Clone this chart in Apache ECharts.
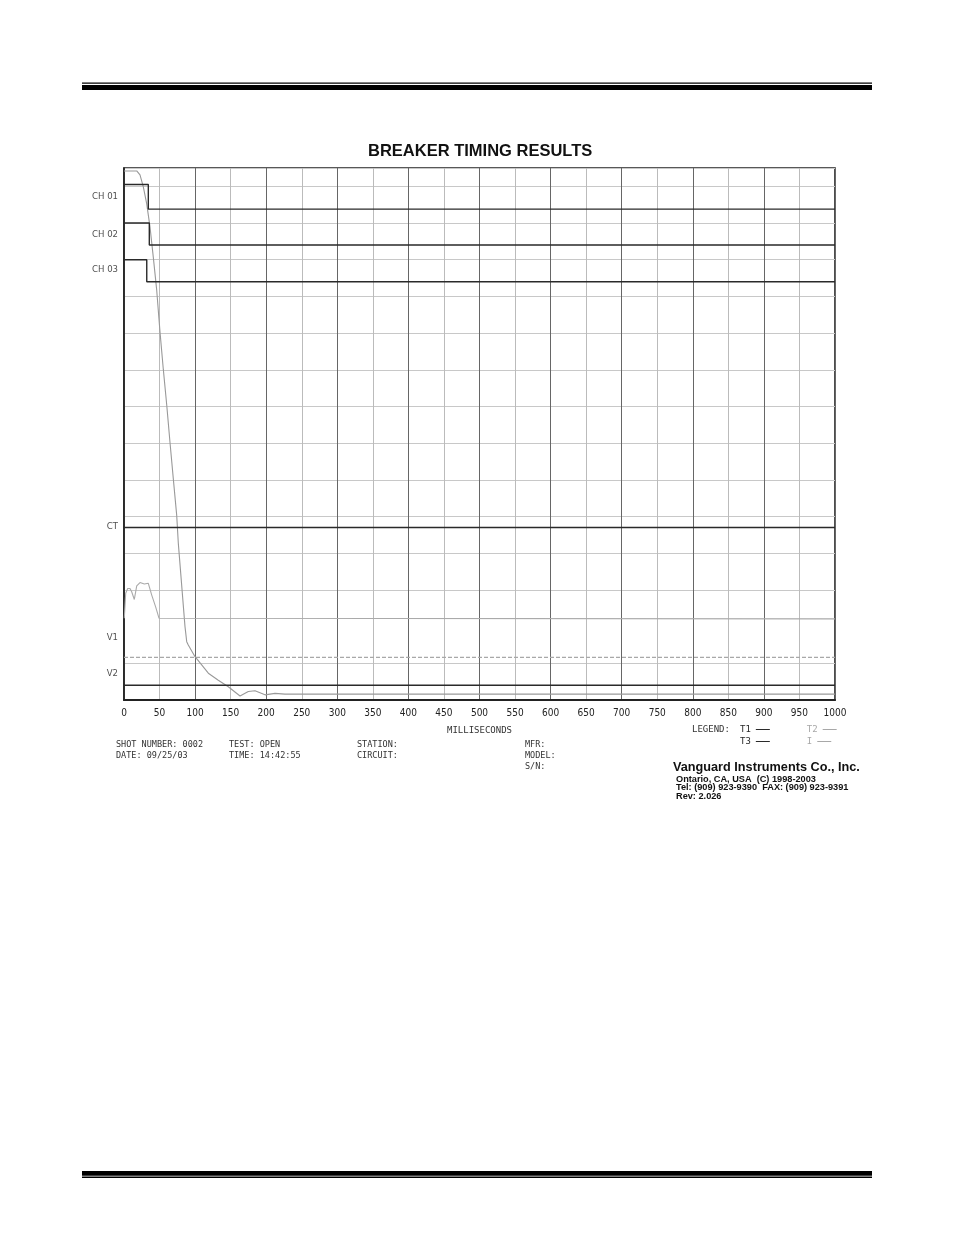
<!DOCTYPE html>
<html>
<head>
<meta charset="utf-8">
<script src="https://cdn.jsdelivr.net/npm/echarts@6/dist/echarts.min.js"></script>
<style>
html,body{margin:0;padding:0;background:#fff;}
#chart{width:954px;height:1235px;}
</style>
</head>
<body>
<div id="chart"></div>
<script>
// ---- data (x in milliseconds, y in chart grid divisions) ----
const xTicks = [0,50,100,150,200,250,300,350,400,450,500,550,600,650,700,750,800,850,900,950,1000];

const chNames = ['CH 01','CH 02','CH 03'];
const chOpenTimes = [34.2, 35.6, 32.0];
const chClosedLevel = [14.05, 13.0, 12.0];
const chOpenLevel = [13.38, 12.4, 11.4];

const ctLevel = 4.7;
const v2Level = 0.4;
const v1Level = 1.16;

const rowLabels = ['CH 01','CH 02','CH 03','CT','V1','V2'];
const rowLabelLevels = [13.71, 12.70, 11.72, 4.72, 1.70, 0.73];

const travelMs = [0, 17.9, 22.5, 27.1, 31.9, 36.6, 41.2, 46.0, 50.6, 55.3, 60.1, 64.7, 69.3, 74.1, 76.4, 85.8, 88.2, 90.4, 99.9, 118.6, 132.6, 146.7, 163.2, 174.8, 184.2, 198.3, 212.4, 226.4, 1000];
const travelLevel = [14.42, 14.42, 14.31, 13.99, 13.53, 12.89, 12.07, 11.17, 10.04, 9.01, 8.04, 7.02, 6.04, 5.04, 4.27, 2.0, 1.59, 1.5, 1.18, 0.73, 0.54, 0.36, 0.11, 0.23, 0.25, 0.14, 0.18, 0.16, 0.16];

const currentMs = [0.4, 2.4, 5.2, 8.4, 10.8, 14.5, 17.9, 22.5, 28.6, 34.2, 39.0, 44.5, 49.2, 1000];
const currentLevel = [2.23, 2.91, 3.04, 3.04, 2.95, 2.74, 3.11, 3.20, 3.16, 3.18, 2.86, 2.54, 2.23, 2.21];

const legendRow1 = ['T1','T2'];
const legendRow2 = ['T3','I'];

const infoLeft = [['SHOT NUMBER: 0002','DATE: 09/25/03'],['TEST: OPEN','TIME: 14:42:55'],['STATION:','CIRCUIT:'],['MFR:','MODEL:','S/N:']];
const companyLines = ['Vanguard Instruments Co., Inc.','Ontario, CA, USA  (C) 1998-2003','Tel: (909) 923-9390  FAX: (909) 923-9391','Rev: 2.026'];

// ---- build ----
const DARK = '#2a2a2a';
const LIGHT = '#a8a8a8';
const NARROW = "'Liberation Sans Narrow','DejaVu Sans Condensed','Liberation Sans',sans-serif";
const MONO = "'DejaVu Sans Mono','Liberation Mono',monospace";

function zip(a, b){ return a.map((v,i)=>[v,b[i]]); }

const series = [];
chNames.forEach((n,i)=>{
  series.push({
    name: n, type:'line', symbol:'none', silent:true, z:5,
    lineStyle:{color:DARK, width:1.4},
    data:[[0,chClosedLevel[i]],[chOpenTimes[i],chClosedLevel[i]],[chOpenTimes[i],chOpenLevel[i]],[1000,chOpenLevel[i]]]
  });
});
series.push({name:'CT', type:'line', symbol:'none', silent:true, z:5, lineStyle:{color:DARK,width:1.4}, data:[[0,ctLevel],[1000,ctLevel]]});
series.push({name:'V2', type:'line', symbol:'none', silent:true, z:5, lineStyle:{color:DARK,width:1.4}, data:[[0,v2Level],[1000,v2Level]]});
series.push({name:'V1', type:'line', symbol:'none', silent:true, z:4, lineStyle:{color:LIGHT,width:1.2,type:[4,2]}, data:[[0,v1Level],[1000,v1Level]]});
series.push({name:'T1', type:'line', symbol:'none', color:DARK, lineStyle:{color:DARK,width:1.2}, data:[]});
series.push({name:'T3', type:'line', symbol:'none', color:DARK, lineStyle:{color:DARK,width:1.2}, data:[]});
series.push({name:'T2', type:'line', symbol:'none', silent:true, z:4, color:LIGHT, lineStyle:{color:'#999',width:1.1}, data:zip(travelMs, travelLevel)});
series.push({name:'I', type:'line', symbol:'none', silent:true, z:4, color:LIGHT, lineStyle:{color:'#aaa',width:1.1}, data:zip(currentMs, currentLevel)});
series.push({
  name:'rows', type:'scatter', symbolSize:0, silent:true, clip:false,
  data: rowLabelLevels.map((v,i)=>({value:[0,v], name:rowLabels[i]})),
  label:{show:true, position:'left', distance:6, formatter:p=>p.name, color:'#222', fontSize:9.5, fontFamily:NARROW}
});

const ySplitColors = [];
for (let k=0;k<=15;k++) ySplitColors.push(k===2 ? 'rgba(0,0,0,0)' : '#c8c8c8');

const graphics = [
  {type:'rect', shape:{x:82,y:82.5,width:790,height:1.3}, style:{fill:'#000'}},
  {type:'rect', shape:{x:82,y:85,width:790,height:5}, style:{fill:'#000'}},
  {type:'rect', shape:{x:82,y:1171,width:790,height:4.8}, style:{fill:'#000'}},
  {type:'rect', shape:{x:82,y:1176.6,width:790,height:1.3}, style:{fill:'#000'}},
  {type:'text', x:692, y:730, style:{text:'LEGEND:', font:"9px "+MONO, fill:'#333', verticalAlign:'middle'}}
];
const infoX = [116, 229, 357, 525];
infoLeft.forEach((col,ci)=>{
  col.forEach((t,ri)=>{
    graphics.push({type:'text', x:infoX[ci], y:745+ri*11, style:{text:t, font:"8.5px "+MONO, fill:'#333', verticalAlign:'middle'}});
  });
});
graphics.push({type:'text', x:673, y:767, style:{text:companyLines[0], font:"bold 12.7px 'Liberation Sans',Arial,sans-serif", fill:'#111', verticalAlign:'middle'}});
[779, 787.5, 796].forEach((yy,i)=>{
  graphics.push({type:'text', x:676, y:yy, style:{text:companyLines[i+1], font:"bold 9.2px 'Liberation Sans',Arial,sans-serif", fill:'#111', verticalAlign:'middle'}});
});

const legendCommon = {
  left:740, orient:'horizontal', align:'right', icon:'rect', itemWidth:14, itemHeight:1,
  itemGap:37, selectedMode:false, padding:0,
  textStyle:{fontSize:9, fontFamily:MONO, color:DARK, width:11}
};

const option = {
  animation:false,
  backgroundColor:'#fff',
  title:{text:'BREAKER TIMING RESULTS', left:368, top:143, padding:0,
    textStyle:{fontSize:16.5, fontWeight:'bold', color:'#111', fontFamily:"'Liberation Sans',Arial,sans-serif"}},
  legend:[
    Object.assign({}, legendCommon, {top:725, data:[{name:legendRow1[0]},{name:legendRow1[1], textStyle:{color:LIGHT}}]}),
    Object.assign({}, legendCommon, {top:737, data:[{name:legendRow2[0]},{name:legendRow2[1], textStyle:{color:LIGHT}}]})
  ],
  grid:{left:124, right:119, top:168, bottom:535, show:true, borderColor:'#222', borderWidth:1.6, backgroundColor:'transparent'},
  xAxis:{
    type:'value', min:xTicks[0], max:xTicks[xTicks.length-1], interval:xTicks[1]-xTicks[0],
    name:'MILLISECONDS', nameLocation:'middle', nameGap:26,
    nameTextStyle:{fontSize:9, fontFamily:MONO, color:'#333'},
    axisLine:{show:true, lineStyle:{color:'#222', width:2}},
    axisTick:{show:false},
    axisLabel:{fontSize:10, color:'#222', margin:8, fontFamily:NARROW, formatter:v=>String(v)},
    splitLine:{show:true, lineStyle:{color:['#666','#bbb'], width:1}}
  },
  yAxis:{
    type:'value', min:0, max:14.5, interval:1,
    axisLine:{show:true, lineStyle:{color:'#222', width:1.6}},
    axisTick:{show:false}, axisLabel:{show:false},
    splitLine:{show:true, lineStyle:{color:ySplitColors, width:1}}
  },
  series: series,
  graphic: graphics
};

const chart = echarts.init(document.getElementById('chart'), null, {renderer:'canvas'});
chart.setOption(option);
</script>
</body>
</html>
